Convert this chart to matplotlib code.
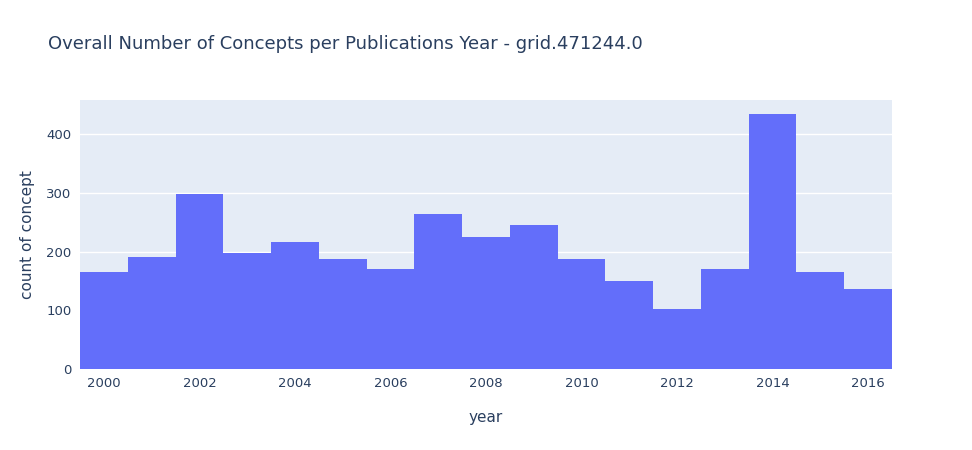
import matplotlib.pyplot as plt

years = list(range(2000, 2017))
counts = [165, 191, 298, 197, 216, 187, 170, 264, 225, 245, 187, 150, 102, 170, 434, 165, 136]
yticks = [0, 100, 200, 300, 400]
xticks = [2000, 2002, 2004, 2006, 2008, 2010, 2012, 2014, 2016]

fig = plt.figure(figsize=(9.72, 4.5), dpi=100)
ax = fig.add_axes([80/972, 81/450, 812/972, 269/450])
ax.set_facecolor('#E5ECF6')
ax.bar(years, counts, width=1.0, color='#636EFA', zorder=2)
ax.set_xlim(1999.5, 2016.5)
ax.set_ylim(0, 458)
ax.set_yticks(yticks)
ax.set_xticks(xticks)
ax.grid(axis='y', color='white', linewidth=1, zorder=1)
for s in ax.spines.values():
    s.set_visible(False)
ax.tick_params(length=0, labelsize=9.5, colors='#2a3f5f', pad=6)
ax.set_xlabel('year', fontsize=11, color='#2a3f5f', labelpad=14)
ax.set_ylabel('count of concept', fontsize=11, color='#2a3f5f', labelpad=8)
fig.text(48/972, 1 - 44/450, 'Overall Number of Concepts per Publications Year - grid.471244.0',
         fontsize=13, color='#2a3f5f', va='center')
fig.savefig('out.png', dpi=100)
